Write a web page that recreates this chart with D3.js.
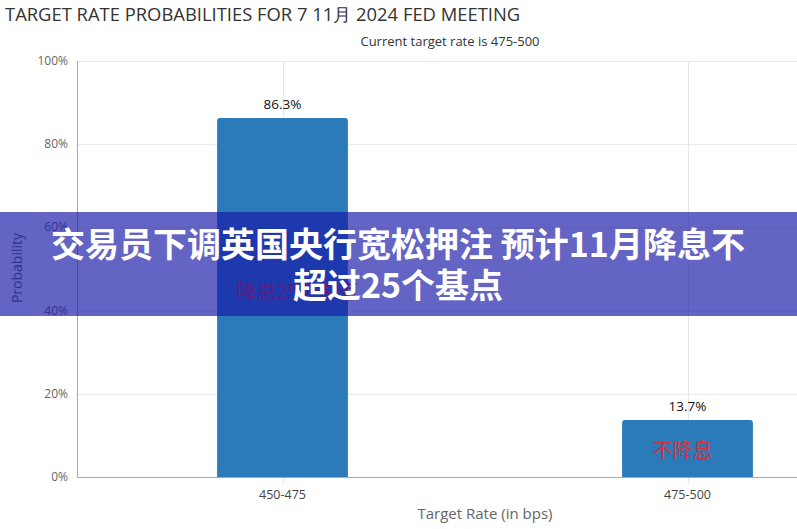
<!DOCTYPE html>
<html><head><meta charset="utf-8">
<script src="https://cdn.jsdelivr.net/npm/d3@7/dist/d3.min.js"></script>
<style>
html,body{margin:0;padding:0;background:#fff;}
svg{display:block;font-family:"Open Sans","DejaVu Sans",sans-serif;}
</style></head>
<body>
<svg id="chart" width="797" height="529"></svg>
<script>
const categories = ["450-475", "475-500"];
const probabilities = [86.3, 13.7];
const barNotes = ["降息25个基点", "不降息"];
const yTicks = [0, 20, 40, 60, 80, 100];
const titleText = "TARGET RATE PROBABILITIES FOR 7 11月 2024 FED MEETING";
const subtitleText = "Current target rate is 475-500";
const xTitle = "Target Rate (in bps)";
const yTitle = "Probability";
const bannerLines = ["交易员下调英国央行宽松押注 预计11月降息不", "超过25个基点"];

const W = 797, H = 529;
const m = {left: 77, top: 61, bottom: 477};
const svg = d3.select("#chart");

const x = d3.scaleBand().domain(categories).range([80, 890]).paddingInner(0.677).paddingOuter(0.3385);
const y = d3.scaleLinear().domain([0, 100]).range([m.bottom, m.top]);

// horizontal gridlines
svg.append("g").selectAll("line").data(yTicks.filter(d => d > 0)).join("line")
  .attr("x1", m.left).attr("x2", W).attr("y1", d => y(d) + 0.5).attr("y2", d => y(d) + 0.5)
  .attr("stroke", "#e6e6e6").attr("stroke-width", 1);

// vertical gridlines at category centers
svg.append("g").selectAll("line").data(categories).join("line")
  .attr("x1", d => Math.round(x(d) + x.bandwidth() / 2) + 0.5)
  .attr("x2", d => Math.round(x(d) + x.bandwidth() / 2) + 0.5)
  .attr("y1", m.top).attr("y2", m.bottom + 7)
  .attr("stroke", "#e6e6e6").attr("stroke-width", 1);

// bars
svg.append("g").selectAll("path").data(probabilities).join("path")
  .attr("d", (d, i) => {
    const x0 = x(categories[i]), w = x.bandwidth(), y0 = y(d), y1 = y(0), r = 3;
    return `M${x0},${y1}V${y0 + r}Q${x0},${y0} ${x0 + r},${y0}H${x0 + w - r}Q${x0 + w},${y0} ${x0 + w},${y0 + r}V${y1}Z`;
  })
  .attr("fill", "#2b7bba");

// value labels
svg.append("g").selectAll("text").data(probabilities).join("text")
  .attr("x", (d, i) => x(categories[i]) + x.bandwidth() / 2)
  .attr("y", d => y(d) - 9)
  .attr("text-anchor", "middle").attr("font-size", 13.5).attr("fill", "#111")
  .text(d => d.toFixed(1) + "%");

// red notes inside bars
svg.append("g").selectAll("text").data(barNotes).join("text")
  .attr("x", (d, i) => x(categories[i]) + x.bandwidth() / 2 + (i === 0 ? 15 : -5))
  .attr("y", (d, i) => i === 0 ? 299 : 458)
  .attr("text-anchor", "middle").attr("font-size", 20)
  .attr("font-family", "'Noto Sans CJK SC',sans-serif")
  .attr("fill", "#d8303a")
  .text(d => d);

// y axis line
svg.append("line").attr("x1", m.left + 0.5).attr("x2", m.left + 0.5)
  .attr("y1", m.top).attr("y2", m.bottom).attr("stroke", "#aaa");
// x axis line
svg.append("line").attr("x1", m.left).attr("x2", W)
  .attr("y1", m.bottom + 0.5).attr("y2", m.bottom + 0.5).attr("stroke", "#aaa");

// y tick labels
svg.append("g").selectAll("text").data(yTicks).join("text")
  .attr("x", 68).attr("y", d => y(d) + 4)
  .attr("text-anchor", "end").attr("font-size", 12).attr("fill", "#666")
  .text(d => d + "%");

// x tick labels
svg.append("g").selectAll("text").data(categories).join("text")
  .attr("x", d => x(d) + x.bandwidth() / 2).attr("y", 499)
  .attr("text-anchor", "middle").attr("font-size", 12.5).attr("fill", "#444")
  .text(d => d);

// axis titles
svg.append("text").attr("x", (x.range()[0] + x.range()[1]) / 2).attr("y", 519)
  .attr("text-anchor", "middle").attr("font-size", 15).attr("fill", "#666").text(xTitle);
svg.append("text").attr("transform", "translate(22,268) rotate(-90)")
  .attr("text-anchor", "middle").attr("font-size", 14).attr("fill", "#666").text(yTitle);

// title & subtitle
svg.append("text").attr("x", 5).attr("y", 21).attr("font-size", 18.4).attr("fill", "#333").text(titleText);
svg.append("text").attr("x", 450).attr("y", 46).attr("text-anchor", "middle")
  .attr("font-size", 13).attr("fill", "#333").text(subtitleText);

// banner overlay
svg.append("rect").attr("x", 0).attr("y", 212).attr("width", W).attr("height", 104)
  .attr("fill", "rgb(24,24,167)").attr("fill-opacity", 0.67);
svg.append("g").selectAll("text").data(bannerLines).join("text")
  .attr("x", 398).attr("y", (d, i) => 257 + i * 41)
  .attr("text-anchor", "middle").attr("font-size", 34).attr("font-weight", "bold")
  .attr("font-family", "'Noto Sans CJK SC',sans-serif").attr("fill", "#fff")
  .text(d => d);
</script>
</body></html>
